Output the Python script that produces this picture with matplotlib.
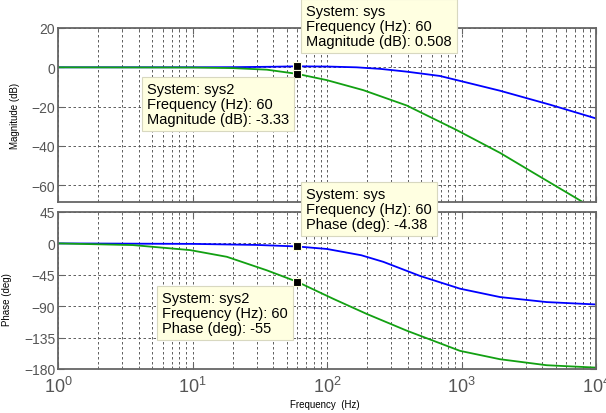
import numpy as np
import matplotlib
matplotlib.use("Agg")
import matplotlib.pyplot as plt
from matplotlib.ticker import LogLocator, FixedLocator, NullFormatter

plt.rcParams["font.family"] = ["Liberation Sans", "DejaVu Sans"]
plt.rcParams["mathtext.fontset"] = "custom"
plt.rcParams["mathtext.rm"] = "Liberation Sans"
plt.rcParams["mathtext.it"] = "Liberation Sans:italic"

# -----------------------------
# values
# -----------------------------
f_sys_mag = [1, 10, 20, 40, 60, 100, 166, 250, 391, 692, 975, 1933, 4550, 10000]
mag_sys = [0, 0.02, 0.08, 0.3, 0.508, 0.4, 0.0, -0.8, -2.2, -4.4, -6.9, -11.9, -19.0, -26.0]

f_sys2_mag = [1, 10, 20, 35.7, 60, 99.5, 186, 391, 920, 1933, 3400, 8530, 10000]
mag_sys2 = [0, -0.1, -0.4, -1.2, -3.33, -6.5, -11.6, -19.4, -31.9, -43.5, -53.5, -69.7, -72.5]

f_sys_ph = [1, 10, 30, 60, 100, 180, 262, 491, 975, 1933, 4300, 10000]
ph_sys = [0, -0.7, -2.2, -4.38, -8.0, -17.0, -26.4, -46.6, -64.9, -76.9, -84.1, -87.5]

f_sys2_ph = [1, 3.6, 9.6, 18, 35.6, 60, 111, 197, 391, 975, 1933, 4300, 10000]
ph_sys2 = [0, -2.4, -9.6, -19.2, -38.5, -55, -79.3, -101, -125, -154, -166, -174.6, -178]

tip_f = 60
tip_mag = [0.508, -3.33]
tip_ph = [-4.38, -55]

mag_ticks = [20, 0, -20, -40, -60]
ph_ticks = [45, 0, -45, -90, -135, -180]

W, H = 606, 414
fig = plt.figure(figsize=(W / 100, H / 100), dpi=100)
fig.patch.set_facecolor("white")

ax1 = fig.add_axes([58 / W, 1 - 203 / H, 538 / W, 174 / H])
ax2 = fig.add_axes([58 / W, 1 - 370 / H, 538 / W, 157 / H])

blue = "#0000ff"
green = "#12a012"

ax1.semilogx(f_sys_mag, mag_sys, color=blue, lw=1.3)
ax1.semilogx(f_sys2_mag, mag_sys2, color=green, lw=1.3)
ax2.semilogx(f_sys_ph, ph_sys, color=blue, lw=1.3)
ax2.semilogx(f_sys2_ph, ph_sys2, color=green, lw=1.3)

for v in tip_mag:
    ax1.plot(tip_f, v, "s", color="black", ms=6, mec="#ffffe1", mew=0.8, zorder=5)
for v in tip_ph:
    ax2.plot(tip_f, v, "s", color="black", ms=6, mec="#ffffe1", mew=0.8, zorder=5)

ax1.set_ylim(-68.5, 20)
ax2.set_ylim(-180, 45)
ax1.yaxis.set_major_locator(FixedLocator(mag_ticks))
ax2.yaxis.set_major_locator(FixedLocator(ph_ticks))

for ax in (ax1, ax2):
    ax.set_xlim(1, 1e4)
    ax.xaxis.set_major_locator(LogLocator(base=10, numticks=10))
    ax.xaxis.set_minor_locator(LogLocator(base=10, subs=np.arange(2, 10), numticks=20))
    ax.xaxis.set_minor_formatter(NullFormatter())
    ax.grid(True, which="major", color="#444444", ls=(0, (3, 3)), lw=0.6)
    ax.grid(True, which="minor", axis="x", color="#444444", ls=(0, (3, 3)), lw=0.6)
    ax.tick_params(which="both", direction="in", top=True, right=True,
                   colors="#666666", labelcolor="#555555")
    ax.tick_params(which="major", length=4)
    ax.tick_params(which="minor", length=2.5)
    ax.tick_params(axis="y", labelsize=10, pad=2)
    for s in ax.spines.values():
        s.set_color("#666666")
        s.set_linewidth(1.3)

ax1.tick_params(axis="x", labelbottom=False)
ax2.tick_params(axis="x", labelsize=13, pad=5)

ax1.set_ylabel("Magnitude (dB)", fontsize=7)
ax2.set_ylabel("Phase (deg)", fontsize=7)
ax1.yaxis.set_label_coords(-0.071, 0.5)
ax2.yaxis.set_label_coords(-0.085, 0.45)
fig.text(325 / W, 1 - 405 / H, "Frequency  (Hz)", fontsize=7, ha="center", va="center")

# data tips
tip_box = dict(boxstyle="square,pad=0.35", facecolor="#ffffe1", edgecolor="#d8d8c0", lw=0.8)
tips = [
    (306, 5, "System: sys\nFrequency (Hz): 60\nMagnitude (dB): 0.508"),
    (147, 83, "System: sys2\nFrequency (Hz): 60\nMagnitude (dB): -3.33"),
    (306, 188, "System: sys\nFrequency (Hz): 60\nPhase (deg): -4.38"),
    (162, 292, "System: sys2\nFrequency (Hz): 60\nPhase (deg): -55"),
]
for x, y, s in tips:
    fig.text(x / W, 1 - y / H, s, fontsize=10.5, ha="left", va="top",
             linespacing=1.1, bbox=tip_box, zorder=10)

fig.savefig("out.png", dpi=100)
